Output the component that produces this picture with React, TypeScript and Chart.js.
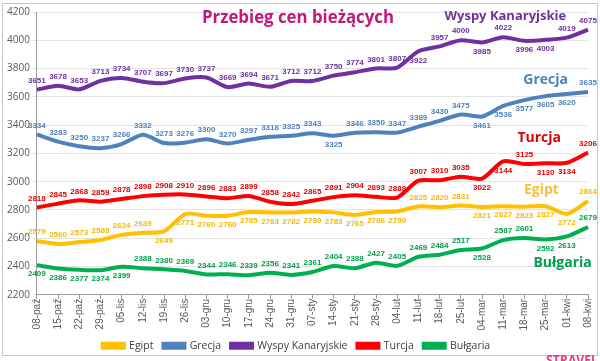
import React, { useEffect, useRef } from "react";
import { Chart, registerables } from "chart.js";
Chart.register(...registerables);

const categories = [
  "08-paź", "15-paź", "22-paź", "29-paź", "05-lis", "12-lis", "19-lis", "26-lis",
  "03-gru", "10-gru", "17-gru", "24-gru", "31-gru", "07-sty", "14-sty", "21-sty",
  "28-sty", "04-lut", "11-lut", "18-lut", "25-lut", "04-mar", "11-mar", "18-mar",
  "25-mar", "01-kwi", "08-kwi",
];

const egipt = [2579, 2560, 2573, 2588, 2624, 2639, 2649, 2771, 2760, 2760, 2785, 2783, 2782, 2790, 2783, 2765, 2786, 2790, 2825, 2820, 2831, 2821, 2827, 2823, 2827, 2772, 2864];
const grecja = [3334, 3283, 3250, 3237, 3266, 3332, 3273, 3276, 3300, 3270, 3297, 3318, 3325, 3343, 3325, 3346, 3350, 3347, 3389, 3430, 3475, 3461, 3536, 3577, 3605, 3620, 3635];
const wyspy = [3651, 3678, 3653, 3713, 3734, 3707, 3697, 3730, 3737, 3669, 3694, 3671, 3712, 3712, 3750, 3774, 3801, 3807, 3922, 3957, 4000, 3985, 4022, 3996, 4003, 4019, 4075];
const turcja = [2818, 2845, 2868, 2859, 2878, 2898, 2908, 2910, 2896, 2883, 2899, 2858, 2842, 2865, 2891, 2904, 2893, 2888, 3007, 3010, 3035, 3022, 3144, 3125, 3130, 3134, 3206];
const bulgaria = [2409, 2386, 2377, 2374, 2399, 2388, 2380, 2369, 2344, 2346, 2339, 2356, 2341, 2361, 2404, 2388, 2427, 2405, 2469, 2484, 2517, 2528, 2587, 2601, 2592, 2613, 2679];

// indices whose value label sits below the line
const egiptBelow = [6, 7, 8, 9, 10, 11, 12, 13, 14, 15, 16, 17, 21, 22, 23, 24, 25];
const grecjaBelow = [14, 21, 22, 23, 24, 25];
const wyspyBelow = [18, 21, 23, 24];
const turcjaBelow = [21, 22, 24, 25];
const bulgariaBelow = [0, 1, 2, 3, 4, 21, 24, 25];

const seriesNames = ["Egipt", "Grecja", "Wyspy Kanaryjskie", "Turcja", "Bułgaria"];
const seriesColors = ["#FFC000", "#4F81BD", "#7030A0", "#FF0000", "#00B050"];
const labelColors = ["#F5B800", "#4F81BD", "#7030A0", "#E00000", "#00A048"];
const nameColors = ["#F7C03A", "#4F81BD", "#7030A0", "#E00000", "#00A050"];
// in-chart series name annotations: [category index, value]
const nameAnchorIdx = [23.8, 24.0, 22.1, 23.7, 24.8];
const nameAnchorVal = [2940, 3716, 4168, 3310, 2428];
const nameFontSize = [14, 14, 13, 14, 14];

const titleText = "Przebieg cen bieżących";
const yTicks = [2200, 2400, 2600, 2800, 3000, 3200, 3400, 3600, 3800, 4000, 4200];

const App: React.FC = () => {
  const ref = useRef<HTMLCanvasElement | null>(null);
  useEffect(() => {
    if (!ref.current) return;
    const values = [egipt, grecja, wyspy, turcja, bulgaria];
    const belows = [egiptBelow, grecjaBelow, wyspyBelow, turcjaBelow, bulgariaBelow];

    const decor = {
      id: "decor",
      beforeDraw(chart: any) {
        const ctx = chart.ctx;
        ctx.save();
        ctx.fillStyle = "#ffffff";
        ctx.fillRect(0, 0, chart.width, chart.height);
        ctx.strokeStyle = "#c6c6c6";
        ctx.lineWidth = 1;
        ctx.strokeRect(2.5, 3.5, 595, 352);
        ctx.restore();
      },
      afterDatasetsDraw(chart: any) {
        const ctx = chart.ctx;
        const xs = chart.scales.x;
        const ys = chart.scales.y;
        ctx.save();
        // value labels
        ctx.font = 'bold 8px "Liberation Sans"';
        ctx.textAlign = "center";
        ctx.textBaseline = "middle";
        chart.data.datasets.forEach((ds: any, di: number) => {
          const meta = chart.getDatasetMeta(di);
          ctx.fillStyle = labelColors[di];
          meta.data.forEach((pt: any, i: number) => {
            const below = belows[di].includes(i);
            const y = pt.y + (below ? 9 : -9);
            ctx.fillText(String(ds.data[i]), pt.x, y);
          });
        });
        // series names
        ctx.textBaseline = "middle";
        for (let k = 0; k < seriesNames.length; k++) {
          ctx.font = `bold ${nameFontSize[k]}px "Open Sans"`;
          ctx.fillStyle = nameColors[k];
          const x = xs.getPixelForValue(nameAnchorIdx[k]);
          const y = ys.getPixelForValue(nameAnchorVal[k]);
          ctx.fillText(seriesNames[k], x, y);
        }
        // title
        ctx.font = 'bold 17px "Open Sans"';
        ctx.fillStyle = "#C2187A";
        ctx.fillText(titleText, 298, 18, 192);
        // watermark
        ctx.font = 'bold 15px "Open Sans"';
        ctx.fillStyle = "#E0408A";
        ctx.textAlign = "right";
        ctx.textBaseline = "top";
        ctx.fillText("STRAVEL", 598, 353, 52);
        ctx.restore();
      },
    };

    const chart = new Chart(ref.current, {
      type: "line",
      data: {
        labels: categories,
        datasets: values.map((v, i) => ({
          label: seriesNames[i],
          data: v,
          borderColor: seriesColors[i],
          backgroundColor: seriesColors[i],
          borderWidth: 4,
          pointRadius: 0,
          tension: 0.25,
          fill: false,
        })),
      },
      options: {
        responsive: false,
        animation: false,
        layout: { padding: { left: 4, right: 11, top: 12, bottom: 0 } },
        plugins: {
          title: { display: false },
          tooltip: { enabled: false },
          legend: {
            position: "bottom",
            labels: {
              boxWidth: 21,
              boxHeight: 4,
              padding: 10,
              color: "#404040",
              font: { size: 10.5, family: "Open Sans" },
            },
          },
        },
        scales: {
          x: {
            type: "category",
            offset: false,
            grid: { display: true, drawOnChartArea: false, tickLength: 4, color: "#9a9a9a" },
            border: { color: "#9a9a9a" },
            ticks: {
              minRotation: 90,
              maxRotation: 90,
              autoSkip: false,
              padding: 0,
              color: "#595959",
              font: { size: 10, family: "Liberation Sans" },
            },
          },
          y: {
            min: 2200,
            max: 4200,
            afterBuildTicks(scale: any) {
              scale.ticks = yTicks.map((v) => ({ value: v }));
            },
            grid: { color: "#e3e3e3", tickLength: 4 },
            border: { color: "#9a9a9a" },
            ticks: {
              padding: 3,
              color: "#595959",
              font: { size: 10, family: "Open Sans" },
              callback: (v: any) => String(v),
            },
          },
        },
      },
      plugins: [decor],
    });
    return () => chart.destroy();
  }, []);
  return (
    <div style={{ position: "absolute", left: 0, top: 0, width: 600, height: 361 }}>
      <canvas ref={ref} width={600} height={361} style={{ display: "block" }} />
    </div>
  );
};

export default App;
